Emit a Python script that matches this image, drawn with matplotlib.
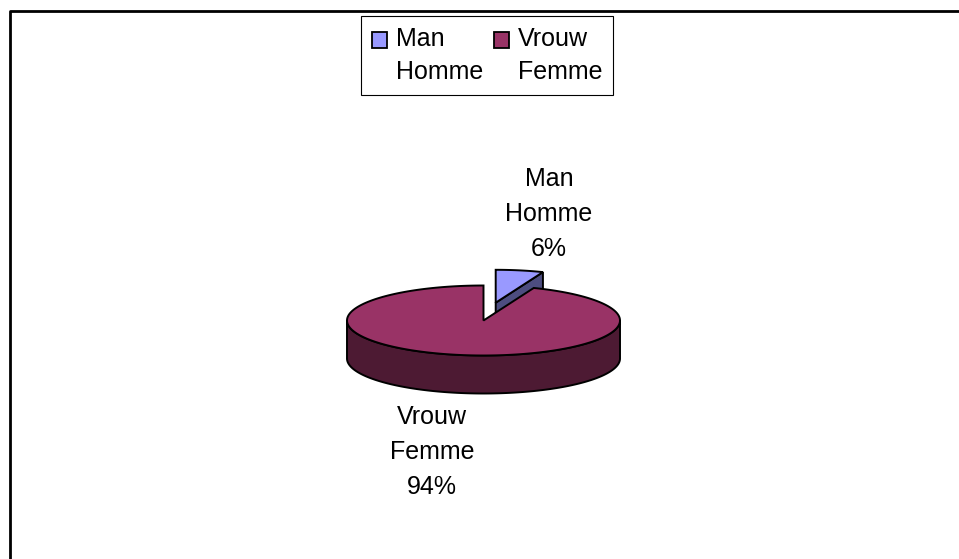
import numpy as np
import matplotlib
matplotlib.use('Agg')
import matplotlib.pyplot as plt
from matplotlib.patches import Polygon, Patch, Rectangle
from matplotlib.legend_handler import HandlerPatch

plt.rcParams['font.family'] = ['Liberation Sans', 'DejaVu Sans']

# data
labels_nl = ['Man', 'Vrouw']
labels_fr = ['Homme', 'Femme']
shares = [6, 94]
top_colors = ['#9999ff', '#993366']
side_colors = ['#4d4d80', '#4d1a33']

# pie geometry in pixels
cx, cy = 483.5, 320.5
rx, ry = 136.5, 35
depth = 38
man_offset = (12.2, -17.8)
man_scale = 0.94

fig = plt.figure(figsize=(9.59, 5.59), dpi=100)
ax = fig.add_axes([0, 0, 1, 1])
ax.set_xlim(0, 959)
ax.set_ylim(559, 0)
ax.axis('off')

# outer frame, only top and left are inside the crop
ax.plot([9.7, 9.7, 959], [559, 10.7, 10.7], color='black', lw=2, solid_capstyle='butt')


def rim(a0, a1, x0, y0, scale=1.0):
    # angles clockwise from 12 o'clock, in degrees
    t = np.radians(np.linspace(a0, a1, 200))
    return x0 + scale * rx * np.sin(t), y0 - scale * ry * np.cos(t)


split = 360 * shares[0] / sum(shares)

# Man slice, pulled out: drawn first so the big slice covers its foot
mx, my = cx + man_offset[0], cy + man_offset[1]
ex, ey = rim(split, split, mx, my, man_scale)
ax.add_patch(Polygon([(mx, my), (ex[0], ey[0]), (ex[0], ey[0] + depth), (mx, my + depth)],
                     fc=side_colors[0], ec='black', lw=1.4, zorder=2))
xs, ys = rim(0, split, mx, my, man_scale)
ax.add_patch(Polygon(np.r_[[[mx, my]], np.c_[xs, ys]], fc=top_colors[0], ec='black', lw=1.4, zorder=3))

# Vrouw slice: front wall then top
xs, ys = rim(90, 270, cx, cy)
wall = np.r_[np.c_[xs, ys], np.c_[xs[::-1], ys[::-1] + depth]]
ax.add_patch(Polygon(wall, fc=side_colors[1], ec='black', lw=1.4, zorder=4))
xs, ys = rim(split, 360, cx, cy)
ax.add_patch(Polygon(np.r_[[[cx, cy]], np.c_[xs, ys]], fc=top_colors[1], ec='black', lw=1.4, zorder=5))

# data labels
ax.text(549, 214, f'{labels_nl[0]}\n{labels_fr[0]}\n{shares[0]}%', ha='center', va='center',
        fontsize=18, linespacing=1.58, zorder=6)
ax.text(432, 452, f'{labels_nl[1]}\n{labels_fr[1]}\n{shares[1]}%', ha='center', va='center',
        fontsize=18, linespacing=1.56, zorder=6)


# legend swatches sit beside the first text line, not the middle of the label
def top_swatch(legend, orig_handle, xdescent, ydescent, width, height, fontsize):
    return Rectangle((-xdescent, -ydescent + 11.5), width, height)


handles = [Patch(fc=c, ec='black', lw=1.3) for c in top_colors]
names = [f'{a}\n{b}' for a, b in zip(labels_nl, labels_fr)]
leg = ax.legend(handles, names, ncol=2, loc='upper left',
                bbox_to_anchor=(361 / 959, 1 - 16 / 559), bbox_transform=ax.transAxes,
                fontsize=18, fancybox=False, framealpha=1, edgecolor='black',
                borderaxespad=0, borderpad=0.44, handlelength=0.58, handleheight=0.58,
                handletextpad=0.36, columnspacing=0.46, labelspacing=0,
                handler_map={Patch: HandlerPatch(patch_func=top_swatch)})
leg.get_frame().set_linewidth(0.8)
for t in leg.get_texts():
    t.set_linespacing(1.48)

fig.savefig('out.png', dpi=100)
